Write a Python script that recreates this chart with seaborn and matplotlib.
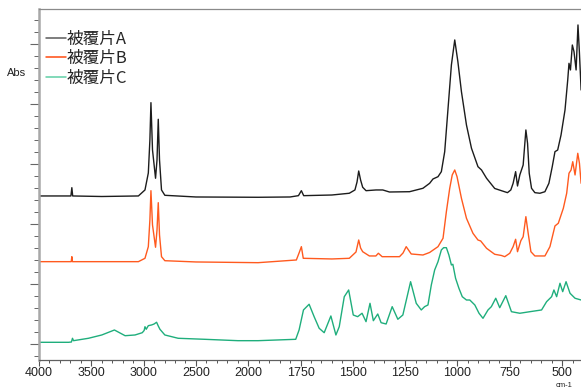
import numpy as np
import pandas as pd
import matplotlib
matplotlib.use("Agg")
import matplotlib.pyplot as plt
import seaborn as sns
from matplotlib.lines import Line2D
from matplotlib.ticker import FixedLocator, FixedFormatter, NullFormatter
from matplotlib.font_manager import FontProperties

# ---------------- data ----------------
series_names = ["被覆片A", "被覆片B", "被覆片C"]

wn_A = [4000, 3720, 3695, 3686, 3678, 3400, 3050, 2987, 2955, 2940, 2930, 2915, 2886, 2872,
        2860, 2848, 2829, 2797, 2500, 1953, 1800, 1760, 1746, 1735, 1600, 1517, 1490, 1480,
        1472, 1463, 1453, 1437, 1389, 1357, 1325, 1229, 1165, 1133, 1117, 1093, 1077, 1061,
        1045, 1029, 1013, 998, 981, 957, 933, 902, 885, 861, 822, 790, 761, 745, 734, 722,
        713, 702, 686, 673, 665, 657, 646, 630, 606, 582, 563, 547, 534, 521, 505, 486, 473,
        467, 460, 451, 443, 433, 424, 417, 409]
abs_A = [2.467, 2.467, 2.467, 2.605, 2.467, 2.458, 2.467, 2.567, 2.850, 3.400, 4.022, 3.233,
         2.762, 3.067, 3.745, 3.067, 2.567, 2.478, 2.450, 2.445, 2.450, 2.472, 2.555, 2.472,
         2.483, 2.512, 2.567, 2.700, 2.883, 2.733, 2.612, 2.555, 2.567, 2.567, 2.533, 2.538,
         2.595, 2.678, 2.750, 2.788, 2.872, 3.205, 3.928, 4.650, 5.067, 4.705, 4.205, 3.650,
         3.262, 2.955, 2.900, 2.762, 2.592, 2.555, 2.522, 2.567, 2.678, 2.872, 2.633, 2.817,
         2.983, 3.567, 3.345, 2.845, 2.595, 2.522, 2.512, 2.538, 2.678, 2.955, 3.205, 3.233,
         3.483, 3.900, 4.400, 4.678, 4.567, 4.983, 4.872, 4.567, 5.317, 4.845, 4.233]

wn_B = [4000, 3692, 3686, 3680, 3050, 2987, 2955, 2940, 2930, 2915, 2886, 2872, 2860, 2848,
        2829, 2797, 2500, 1953, 1770, 1757, 1746, 1737, 1600, 1517, 1485, 1472, 1463, 1453,
        1421, 1390, 1378, 1360, 1277, 1260, 1245, 1221, 1165, 1133, 1093, 1069, 1053, 1037,
        1025, 1013, 1002, 981, 957, 926, 902, 889, 861, 822, 790, 774, 750, 734, 722, 713,
        697, 686, 673, 662, 649, 630, 582, 558, 534, 518, 494, 478, 467, 457, 449, 438, 425,
        417, 409]
abs_B = [1.372, 1.372, 1.455, 1.372, 1.372, 1.428, 1.622, 2.067, 2.555, 1.983, 1.612, 1.900,
         2.355, 1.817, 1.455, 1.388, 1.367, 1.355, 1.400, 1.517, 1.622, 1.428, 1.417, 1.428,
         1.533, 1.733, 1.600, 1.538, 1.467, 1.467, 1.512, 1.455, 1.455, 1.517, 1.622, 1.500,
         1.483, 1.525, 1.622, 1.762, 2.205, 2.595, 2.817, 2.900, 2.788, 2.428, 2.095, 1.845,
         1.733, 1.717, 1.595, 1.495, 1.475, 1.455, 1.512, 1.622, 1.745, 1.538, 1.722, 1.788,
         2.122, 1.845, 1.538, 1.467, 1.467, 1.622, 1.967, 2.012, 2.262, 2.512, 2.845, 2.900,
         3.038, 2.817, 3.178, 3.012, 2.678]

wn_C = [4000, 3717, 3690, 3680, 3670, 3527, 3400, 3279, 3177, 3082, 3013, 2995, 2987, 2975,
        2955, 2924, 2900, 2876, 2860, 2844, 2797, 2670, 2416, 2099, 1953, 1773, 1757, 1736,
        1709, 1685, 1661, 1637, 1605, 1581, 1565, 1541, 1520, 1498, 1477, 1456, 1437, 1418,
        1402, 1381, 1365, 1341, 1312, 1285, 1261, 1224, 1197, 1173, 1157, 1141, 1125, 1109,
        1093, 1077, 1066, 1053, 1041, 1029, 1022, 1009, 993, 977, 957, 941, 917, 897, 878,
        854, 838, 817, 798, 769, 742, 702, 654, 598, 574, 550, 539, 526, 510, 497, 481, 462,
        438, 409]
abs_C = [0.028, 0.028, 0.033, 0.095, 0.055, 0.095, 0.150, 0.233, 0.138, 0.150, 0.188, 0.225,
         0.288, 0.245, 0.305, 0.317, 0.333, 0.362, 0.300, 0.245, 0.150, 0.095, 0.078, 0.055,
         0.055, 0.078, 0.233, 0.567, 0.662, 0.455, 0.262, 0.188, 0.467, 0.150, 0.288, 0.788,
         0.900, 0.483, 0.455, 0.512, 0.372, 0.678, 0.388, 0.500, 0.355, 0.333, 0.622, 0.412,
         0.483, 1.038, 0.678, 0.567, 0.622, 0.650, 0.983, 1.233, 1.372, 1.567, 1.605, 1.605,
         1.483, 1.317, 1.328, 1.095, 0.928, 0.788, 0.733, 0.733, 0.650, 0.512, 0.428, 0.567,
         0.622, 0.762, 0.605, 0.805, 0.538, 0.512, 0.538, 0.567, 0.705, 0.788, 0.900, 0.788,
         1.012, 0.872, 1.038, 0.845, 0.762, 0.733]

x_major_ticks = [4000, 3500, 3000, 2500, 2000, 1750, 1500, 1250, 1000, 750, 500]
x_tick_labels = ["4000", "3500", "3000", "2500", "2000", "1750", "1500", "1250", "1000", "750", "500"]
y_label = "Abs"
x_unit = "cm-1"

# ---------------- styling ----------------
line_colors = ["#1c1c1c", "#ff5a1f", "#1fae7c"]
legend_colors = ["#5a5a5a", "#ff4a10", "#5fcfa6"]

sns.set_style("ticks")
plt.rcParams["font.family"] = ["Noto Sans CJK JP", "DejaVu Sans"]

df = pd.concat([
    pd.DataFrame({"wn": wn_A, "abs": abs_A, "sample": series_names[0]}),
    pd.DataFrame({"wn": wn_B, "abs": abs_B, "sample": series_names[1]}),
    pd.DataFrame({"wn": wn_C, "abs": abs_C, "sample": series_names[2]}),
], ignore_index=True)

fig = plt.figure(figsize=(5.81, 3.89), dpi=100)
ax = fig.add_axes([39 / 581, 29 / 389, 544 / 581, 351 / 389])

sns.lineplot(data=df, x="wn", y="abs", hue="sample",
             palette=dict(zip(series_names, line_colors)),
             sort=False, estimator=None, linewidth=1.0, ax=ax, legend=False)


# split wavenumber axis: 2x expansion below 2000 cm-1
def fwd(x):
    x = np.asarray(x, dtype=float)
    return np.where(x >= 2000, x, 2 * x - 2000)


def inv(t):
    t = np.asarray(t, dtype=float)
    return np.where(t >= 2000, t, (t + 2000) / 2)


ax.set_xscale("function", functions=(fwd, inv))
ax.set_xlim(4000, 400)
ax.set_ylim(-0.267, 5.583)

minor_x = [v for v in list(range(3900, 2000, -100)) + list(range(1950, 400, -50))
           if v not in x_major_ticks]
ax.xaxis.set_major_locator(FixedLocator(x_major_ticks))
ax.xaxis.set_major_formatter(FixedFormatter(x_tick_labels))
ax.xaxis.set_minor_locator(FixedLocator(minor_x))
ax.xaxis.set_minor_formatter(NullFormatter())

ax.yaxis.set_major_locator(FixedLocator([0, 1, 2, 3, 4, 5]))
ax.yaxis.set_minor_locator(FixedLocator([round(-0.2 + 0.2 * i, 2) for i in range(29)]))
ax.yaxis.set_major_formatter(NullFormatter())
ax.yaxis.set_minor_formatter(NullFormatter())

ax.set_xlabel("")
ax.set_ylabel("")

ax.tick_params(axis="x", which="major", direction="out", length=4, width=0.8,
               color="#555555", pad=1.2, labelsize=9, labelcolor="#222222")
ax.tick_params(axis="x", which="minor", direction="out", length=2, width=0.7, color="#555555")
ax.tick_params(axis="y", which="major", direction="out", length=6.5, width=0.8, color="#666666")
ax.tick_params(axis="y", which="minor", direction="out", length=3.5, width=0.7, color="#666666")
for lab in ax.get_xticklabels():
    lab.set_family(["Liberation Sans", "DejaVu Sans"])

ax.spines["left"].set_color("#a8a8a8")
ax.spines["left"].set_linewidth(1.8)
ax.spines["top"].set_color("#8a8a8a")
ax.spines["top"].set_linewidth(0.9)
ax.spines["bottom"].set_color("#606060")
ax.spines["bottom"].set_linewidth(0.9)
ax.spines["right"].set_visible(False)

handles = [Line2D([], [], color=c, lw=1.1) for c in legend_colors]
ax.legend(handles, series_names, loc="upper left",
          bbox_to_anchor=(46 / 581, 1 - 31 / 389), bbox_transform=fig.transFigure,
          frameon=False, prop=FontProperties(family=["Noto Sans CJK JP", "DejaVu Sans"], size=12),
          handlelength=1.2, handletextpad=0.05, labelspacing=0.14, borderpad=0, borderaxespad=0)

fig.text(17 / 581, 1 - 73 / 389, y_label, ha="center", va="center", fontsize=8,
         family=["Liberation Sans", "DejaVu Sans"], color="#222222")
fig.text(556 / 581, 0.2 / 389, x_unit, ha="left", va="bottom", fontsize=5.5,
         family=["Liberation Sans", "DejaVu Sans"], color="#222222")

fig.savefig("out.png", dpi=100)
